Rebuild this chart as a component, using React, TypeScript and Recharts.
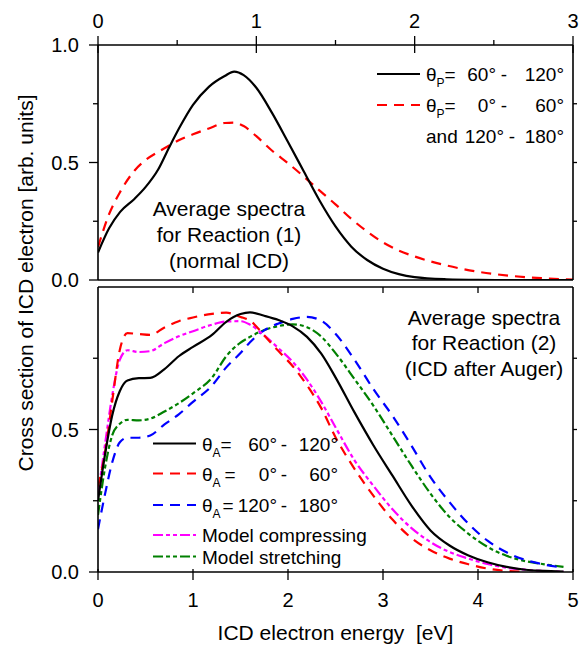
import { LineChart, Line, XAxis, YAxis, Legend, Label } from 'recharts'

const FONT = '"Liberation Sans", Arial, Helvetica, sans-serif'

// Reaction (1), upper panel, energy read on the upper axis (0-3 eV)
const topEnergy = [0, 0.07, 0.14, 0.23, 0.3, 0.38, 0.45, 0.52, 0.6, 0.7, 0.8, 0.86, 0.92, 1.0, 1.1, 1.2, 1.3, 1.4, 1.5, 1.6, 1.7, 1.8, 1.9, 2.0, 2.2, 2.4, 2.6, 2.8, 3.0]
const topP60to120 = [0.117, 0.22, 0.29, 0.345, 0.395, 0.47, 0.565, 0.655, 0.745, 0.822, 0.868, 0.887, 0.872, 0.818, 0.71, 0.587, 0.462, 0.337, 0.228, 0.142, 0.085, 0.048, 0.025, 0.012, 0.003, 0.0005, 0, 0, 0]
const topP0to60 = [0.14, 0.28, 0.375, 0.465, 0.51, 0.545, 0.572, 0.598, 0.62, 0.645, 0.668, 0.67, 0.655, 0.612, 0.55, 0.497, 0.44, 0.38, 0.322, 0.26, 0.206, 0.16, 0.125, 0.1, 0.062, 0.035, 0.018, 0.008, 0.002]

// Reaction (2), lower panel (0-5 eV)
const botEnergy = [0, 0.075, 0.15, 0.23, 0.31, 0.43, 0.55, 0.7, 0.85, 1.0, 1.2, 1.35, 1.5, 1.6, 1.75, 1.9, 2.05, 2.2, 2.35, 2.5, 2.7, 2.9, 3.1, 3.3, 3.5, 3.7, 3.9, 4.1, 4.3, 4.5, 4.7, 4.9]
const botA60to120 = [0.25, 0.415, 0.55, 0.635, 0.672, 0.68, 0.681, 0.712, 0.757, 0.79, 0.832, 0.878, 0.905, 0.911, 0.899, 0.884, 0.862, 0.825, 0.766, 0.683, 0.56, 0.444, 0.338, 0.233, 0.146, 0.093, 0.058, 0.034, 0.018, 0.008, 0.004, 0.001]
const botA0to60 = [0.3, 0.42, 0.6, 0.78, 0.838, 0.835, 0.832, 0.858, 0.88, 0.893, 0.906, 0.91, 0.895, 0.882, 0.83, 0.775, 0.722, 0.655, 0.575, 0.473, 0.362, 0.267, 0.184, 0.119, 0.076, 0.047, 0.027, 0.012, 0.004, 0, null, null]
const botA120to180 = [0.15, 0.275, 0.385, 0.455, 0.471, 0.471, 0.479, 0.518, 0.553, 0.597, 0.654, 0.718, 0.768, 0.806, 0.848, 0.872, 0.888, 0.895, 0.882, 0.836, 0.745, 0.641, 0.548, 0.443, 0.333, 0.245, 0.169, 0.11, 0.069, 0.042, 0.026, 0.015]
const modelCompressing = [0.27, 0.45, 0.62, 0.745, 0.778, 0.772, 0.775, 0.803, 0.827, 0.845, 0.868, 0.879, 0.88, 0.868, 0.83, 0.785, 0.737, 0.675, 0.597, 0.508, 0.392, 0.302, 0.22, 0.154, 0.105, 0.07, 0.047, 0.028, 0.015, 0.008, 0.003, 0.001]
const modelStretching = [0.2, 0.368, 0.48, 0.52, 0.534, 0.532, 0.538, 0.563, 0.592, 0.627, 0.682, 0.757, 0.805, 0.825, 0.849, 0.863, 0.869, 0.859, 0.826, 0.768, 0.677, 0.583, 0.478, 0.373, 0.275, 0.193, 0.134, 0.088, 0.057, 0.038, 0.027, 0.018]

const topXTicks = [0, 0.5, 1, 1.5, 2, 2.5, 3]
const topXLabels = [0, 1, 2, 3]
const topYTicks = [0, 0.25, 0.5, 0.75, 1]
const topYLabels = [0, 0.5, 1]
const botXTicks = [0, 1, 2, 3, 4, 5]
const botYTicks = [0, 0.25, 0.5, 0.75]
const botYLabels = [0, 0.5]
const innerTicks = [1, 2, 3, 4]
const sideTicks = [0.25, 0.5, 0.75]

const topData = topEnergy.map((e, i) => ({ e, p60: topP60to120[i], p0: topP0to60[i] }))
const botData = botEnergy.map((e, i) => ({
  e,
  a60: botA60to120[i],
  a0: botA0to60[i],
  a120: botA120to180[i],
  comp: modelCompressing[i],
  stretch: modelStretching[i],
}))

const RED_DASH = '10 7'
const BLUE_DASH = '10 7'
const DASH_DOT_DOT = '10 3 4 3 4 3'

const frame = { stroke: '#000', strokeWidth: 1.6 }
const tickStroke = { stroke: '#000', strokeWidth: 1.3 }

function FrameTick(props: any) {
  const { x, y, payload, side, labels = [], fmt = (v: number) => String(v) } = props
  const v = payload.value as number
  const major = labels.includes(v)
  if (side === 'top') {
    return (
      <g>
        <line x1={x} x2={x} y1={major ? y + 8 : y} y2={y - (major ? 9 : 5)} {...tickStroke} />
        {major && <text x={x} y={y - 17} textAnchor="middle" fontSize={20} fontFamily={FONT}>{fmt(v)}</text>}
      </g>
    )
  }
  if (side === 'bottom') {
    return (
      <g>
        <line x1={x} x2={x} y1={y - 3} y2={y + 8} {...tickStroke} />
        <text x={x} y={y + 35} textAnchor="middle" fontSize={20} fontFamily={FONT}>{fmt(v)}</text>
      </g>
    )
  }
  if (side === 'left') {
    return (
      <g>
        <line x1={x - (major ? 9 : 5)} x2={x} y1={y} y2={y} {...tickStroke} />
        {major && <text x={x - 19} y={y + 7} textAnchor="end" fontSize={20} fontFamily={FONT}>{fmt(v)}</text>}
      </g>
    )
  }
  if (side === 'right') {
    return <line x1={x} x2={x + 4} y1={y} y2={y} {...tickStroke} />
  }
  // inner ticks hanging from the top edge of the lower panel
  return <line x1={x} x2={x} y1={y} y2={y + 6} {...tickStroke} />
}

function ThetaEq({ x, y, sub, eqGap = 0 }: { x: number; y: number; sub: string; eqGap?: number }) {
  return (
    <text x={x} y={y} fontSize={19} fontFamily={FONT}>
      θ<tspan fontSize={12} dy={6}>{sub}</tspan>
      <tspan dy={-6} dx={eqGap}>=</tspan>
    </text>
  )
}

function AngleRange({ y, a, b, aEnd, dashX, bEnd }: { y: number; a: string; b: string; aEnd: number; dashX: number; bEnd: number }) {
  return (
    <g fontSize={19} fontFamily={FONT}>
      <text x={aEnd} y={y} textAnchor="end">{a}</text>
      <text x={dashX} y={y} textAnchor="middle">-</text>
      <text x={bEnd} y={y} textAnchor="end">{b}</text>
    </g>
  )
}

function TopLegend() {
  const rows = [
    { y: 22, color: '#000', dash: undefined as string | undefined, a: '60°', b: '120°' },
    { y: 53, color: '#ff0000', dash: RED_DASH, a: '0°', b: '60°' },
  ]
  return (
    <svg width={210} height={100} style={{ overflow: 'visible' }}>
      {rows.map((r) => (
        <g key={r.y}>
          <line x1={7} x2={50} y1={r.y} y2={r.y} stroke={r.color} strokeWidth={2.2} strokeDasharray={r.dash} />
          <ThetaEq x={56} y={r.y + 7} sub="P" />
          <AngleRange y={r.y + 7} a={r.a} b={r.b} aEnd={126} dashX={134} bEnd={194} />
        </g>
      ))}
      <text x={56} y={91} fontSize={19} fontFamily={FONT}>and</text>
      <AngleRange y={91} a="120°" b="180°" aEnd={134} dashX={142} bEnd={194} />
    </svg>
  )
}

function BottomLegend() {
  const rows = [
    { y: 18.5, color: '#000', dash: undefined as string | undefined, a: '60°', b: '120°', gap: 0 },
    { y: 48.5, color: '#ff0000', dash: RED_DASH, a: '0°', b: '60°', gap: 4 },
    { y: 80, color: '#0000ff', dash: BLUE_DASH, a: '120°', b: '180°', gap: 2 },
  ]
  return (
    <svg width={250} height={145} style={{ overflow: 'visible' }}>
      {rows.map((r) => (
        <g key={r.y}>
          <line x1={5} x2={48} y1={r.y} y2={r.y} stroke={r.color} strokeWidth={2.2} strokeDasharray={r.dash} />
          <ThetaEq x={54} y={r.y + 7} sub="A" eqGap={r.gap} />
          <AngleRange y={r.y + 7} a={r.a} b={r.b} aEnd={129} dashX={136} bEnd={190} />
        </g>
      ))}
      <line x1={5} x2={48} y1={110} y2={110} stroke="#ff00ff" strokeWidth={2.2} strokeDasharray={DASH_DOT_DOT} />
      <text x={54} y={117} fontSize={19} fontFamily={FONT}>Model compressing</text>
      <line x1={5} x2={48} y1={131.5} y2={131.5} stroke="#008000" strokeWidth={2.2} strokeDasharray={DASH_DOT_DOT} />
      <text x={54} y={138.5} fontSize={19} fontFamily={FONT}>Model stretching</text>
    </svg>
  )
}

export default function App() {
  return (
    <div style={{ position: 'relative', width: 587, height: 645, margin: '-8px 0 0 -8px', background: '#fff', fontFamily: FONT }}>
      <div style={{ position: 'absolute', left: 0, top: 0 }}>
        <LineChart width={587} height={300} data={topData} margin={{ top: 0, right: 0, bottom: 0, left: 0 }}>
          <XAxis
            xAxisId="top"
            orientation="top"
            dataKey="e"
            type="number"
            domain={[0, 3]}
            allowDataOverflow
            ticks={topXTicks}
            interval={0}
            height={45}
            tickSize={0}
            tickMargin={0}
            tickLine={false}
            axisLine={frame}
            tick={(p: any) => <FrameTick {...p} side="top" labels={topXLabels} />}
          />
          <XAxis xAxisId="frame" orientation="bottom" dataKey="e" type="number" domain={[0, 3]} allowDataOverflow height={20} tick={false} tickLine={false} axisLine={frame} />
          <YAxis
            yAxisId="left"
            type="number"
            domain={[0, 1]}
            allowDataOverflow
            ticks={topYTicks}
            interval={0}
            width={98}
            tickSize={0}
            tickMargin={0}
            tickLine={false}
            axisLine={frame}
            tick={(p: any) => <FrameTick {...p} side="left" labels={topYLabels} fmt={(v: number) => v.toFixed(1)} />}
          />
          <YAxis
            yAxisId="right"
            orientation="right"
            type="number"
            domain={[0, 1]}
            allowDataOverflow
            ticks={sideTicks}
            interval={0}
            width={14}
            tickSize={0}
            tickMargin={0}
            tickLine={false}
            axisLine={frame}
            tick={(p: any) => <FrameTick {...p} side="right" />}
          />
          <Legend
            layout="horizontal"
            verticalAlign="middle"
            align="center"
            wrapperStyle={{ left: 370, top: 52, width: 210, height: 100 }}
            content={() => <TopLegend />}
          />
          <Line xAxisId="top" yAxisId="left" type="monotone" dataKey="p0" name="θP = 0°-60° and 120°-180°" stroke="#ff0000" strokeWidth={2.2} strokeDasharray={RED_DASH} dot={false} isAnimationActive={false} />
          <Line xAxisId="top" yAxisId="left" type="monotone" dataKey="p60" name="θP = 60°-120°" stroke="#000" strokeWidth={2.2} dot={false} isAnimationActive={false} />
        </LineChart>
      </div>

      <div style={{ position: 'absolute', left: 0, top: 250 }}>
        <LineChart width={587} height={395} data={botData} margin={{ top: 0, right: 0, bottom: 0, left: 0 }}>
          <XAxis
            xAxisId="inner"
            orientation="top"
            dataKey="e"
            type="number"
            domain={[0, 5]}
            allowDataOverflow
            ticks={innerTicks}
            interval={0}
            height={37}
            tickSize={0}
            tickMargin={0}
            tickLine={false}
            axisLine={frame}
            tick={(p: any) => <FrameTick {...p} side="inner" />}
          />
          <XAxis
            xAxisId="bottom"
            orientation="bottom"
            dataKey="e"
            type="number"
            domain={[0, 5]}
            allowDataOverflow
            ticks={botXTicks}
            interval={0}
            height={73}
            tickSize={0}
            tickMargin={0}
            tickLine={false}
            axisLine={frame}
            tick={(p: any) => <FrameTick {...p} side="bottom" labels={botXTicks} />}
          >
            <Label value={'ICD electron energy\u00a0 [eV]'} position="insideBottom" offset={5} style={{ fontSize: 21, fill: '#000', fontFamily: FONT }} />
          </XAxis>
          <YAxis
            yAxisId="left"
            type="number"
            domain={[0, 1]}
            allowDataOverflow
            ticks={botYTicks}
            interval={0}
            width={98}
            tickSize={0}
            tickMargin={0}
            tickLine={false}
            axisLine={frame}
            tick={(p: any) => <FrameTick {...p} side="left" labels={botYLabels} fmt={(v: number) => v.toFixed(1)} />}
          />
          <YAxis
            yAxisId="right"
            orientation="right"
            type="number"
            domain={[0, 1]}
            allowDataOverflow
            ticks={sideTicks}
            interval={0}
            width={14}
            tickSize={0}
            tickMargin={0}
            tickLine={false}
            axisLine={frame}
            tick={(p: any) => <FrameTick {...p} side="right" />}
          />
          <Legend
            layout="horizontal"
            verticalAlign="middle"
            align="center"
            wrapperStyle={{ left: 148, top: 175, width: 250, height: 145 }}
            content={() => <BottomLegend />}
          />
          <Line xAxisId="bottom" yAxisId="left" type="monotone" dataKey="stretch" name="Model stretching" stroke="#008000" strokeWidth={2.2} strokeDasharray={DASH_DOT_DOT} dot={false} isAnimationActive={false} />
          <Line xAxisId="bottom" yAxisId="left" type="monotone" dataKey="a120" name="θA = 120°-180°" stroke="#0000ff" strokeWidth={2.2} strokeDasharray={BLUE_DASH} dot={false} isAnimationActive={false} />
          <Line xAxisId="bottom" yAxisId="left" type="monotone" dataKey="comp" name="Model compressing" stroke="#ff00ff" strokeWidth={2.2} strokeDasharray={DASH_DOT_DOT} dot={false} isAnimationActive={false} />
          <Line xAxisId="bottom" yAxisId="left" type="monotone" dataKey="a0" name="θA = 0°-60°" stroke="#ff0000" strokeWidth={2.2} strokeDasharray={RED_DASH} dot={false} isAnimationActive={false} />
          <Line xAxisId="bottom" yAxisId="left" type="monotone" dataKey="a60" name="θA = 60°-120°" stroke="#000" strokeWidth={2.2} dot={false} isAnimationActive={false} />
        </LineChart>
      </div>

      <svg width={587} height={645} style={{ position: 'absolute', left: 0, top: 0, pointerEvents: 'none' }}>
        <text transform="translate(25,283) rotate(-90)" textAnchor="middle" dominantBaseline="central" fontSize={21} fontFamily={FONT}>
          Cross section of ICD electron [arb. units]
        </text>
        <text textAnchor="middle" fontSize={21} fontFamily={FONT}>
          <tspan x={229} y={216}>Average spectra</tspan>
          <tspan x={229} y={242}>for Reaction (1)</tspan>
          <tspan x={229} y={267.5}>(normal ICD)</tspan>
        </text>
        <text textAnchor="middle" fontSize={21} fontFamily={FONT}>
          <tspan x={484} y={324.5}>Average spectra</tspan>
          <tspan x={484} y={350}>for Reaction (2)</tspan>
          <tspan x={484} y={375.5}>(ICD after Auger)</tspan>
        </text>
      </svg>
    </div>
  )
}
